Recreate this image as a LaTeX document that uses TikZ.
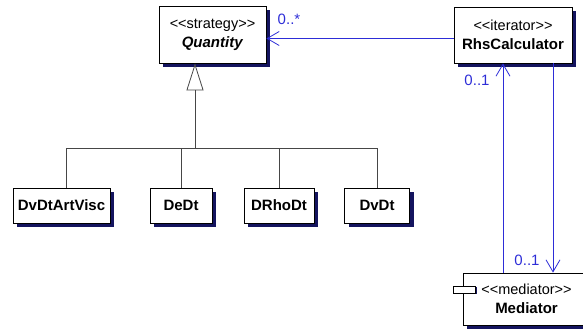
\documentclass[tikz,border=0pt]{standalone}
\usepackage{fontspec}
\setmainfont{Liberation Sans}[Ligatures=TeXOff]
\usetikzlibrary{arrows.meta,shadows}
\definecolor{umlblue}{RGB}{45,45,215}
\definecolor{shadowblue}{RGB}{20,20,95}
\definecolor{treegray}{RGB}{70,70,70}
\begin{document}
\begin{tikzpicture}[x=1pt,y=-1pt,
  every node/.style={font=\fontsize{15}{19}\selectfont},
  cls/.style={draw=black, line width=0.8pt, fill=white, align=center, inner sep=0pt,
    general shadow={fill=shadowblue, shadow xshift=4pt, shadow yshift=-4pt}},
  icon/.style={draw=black, line width=0.8pt, fill=white, inner sep=0pt,
    minimum width=22pt, minimum height=7pt,
    general shadow={fill=shadowblue, shadow xshift=1.5pt, shadow yshift=-1.5pt}},
  assoc/.style={draw=umlblue, line width=0.8pt, -{Straight Barb[length=12pt,width=14pt,line width=0.8pt]}},
  gen/.style={draw=treegray, line width=0.8pt, -{Triangle[open,length=27pt,width=17pt,fill=white,line width=0.8pt]}},
  tree/.style={draw=treegray, line width=0.8pt},
  lbl/.style={text=umlblue, inner sep=0pt}]
\newcommand{\stereo}[1]{{\fontsize{14.5}{19}\selectfont #1}}
\useasboundingbox (0,0) rectangle (583,336);

% classes
\node[cls, minimum width=107pt, minimum height=57pt] (q) at (212.5,34.5)
  {\stereo{<<strategy>>}\\\textbf{\textit{Quantity}}};
\node[cls, minimum width=118pt, minimum height=56pt] (r) at (513,35)
  {\stereo{<<iterator>>}\\\textbf{RhsCalculator}};
\node[cls, minimum width=127pt, minimum height=52pt] (m) at (526.5,299)
  {\stereo{<<mediator>>}\\\textbf{Mediator}};
\node[icon] (mi) at (464,289.5) {};

\node[cls, minimum width=97pt, minimum height=35pt] (d1) at (61.5,205.5) {\textbf{DvDtArtVisc}};
\node[cls, minimum width=62pt, minimum height=35pt] (d2) at (181,205.5) {\textbf{DeDt}};
\node[cls, minimum width=70pt, minimum height=35pt] (d3) at (279,205.5) {\textbf{DRhoDt}};
\node[cls, minimum width=65pt, minimum height=35pt] (d4) at (377,205.5) {\textbf{DvDt}};

% generalization tree
\coordinate (j) at (195,148);
\coordinate (d1x) at (66,0);
\draw[gen] (j) -- (q.south -| j);
\draw[tree] (d1x |- j) -- (d4.north |- j);
\draw[tree] (d1.north -| d1x) -- (d1x |- j);
\draw[tree] (d2.north) -- (d2.north |- j);
\draw[tree] (d3.north) -- (d3.north |- j);
\draw[tree] (d4.north) -- (d4.north |- j);

% associations
\coordinate (ax) at (503,0);
\coordinate (bx) at (553,0);
\draw[assoc] ([yshift=-3.5pt]r.west) -- ([yshift=-3.5pt]r.west -| q.east);
\draw[assoc] (m.north -| ax) -- (r.south -| ax);
\draw[assoc] (r.south -| bx) -- (m.north -| bx);

% multiplicities
\node[lbl] (l1) at (289,19) {0..*};
\node[lbl] (l2) at (477,80) {0..1};
\node[lbl] (l3) at (527,260) {0..1};
\end{tikzpicture}
\end{document}
